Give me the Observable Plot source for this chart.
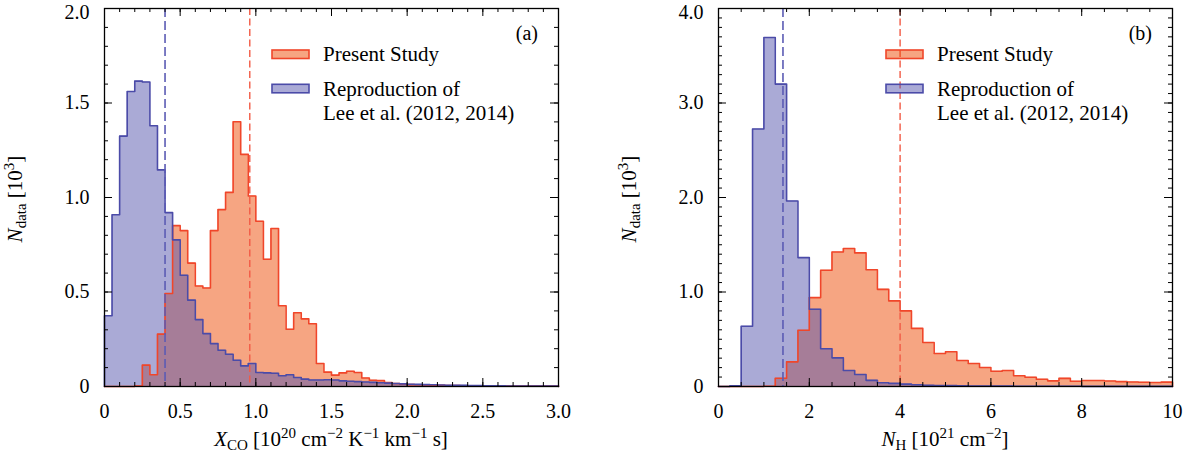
<!DOCTYPE html>
<html><head><meta charset="utf-8">
<script src="https://cdn.jsdelivr.net/npm/d3@7"></script>
<script src="https://cdn.jsdelivr.net/npm/@observablehq/plot@0.6"></script>
<style>
body{margin:0;background:#fff;}
#wrap{display:flex;width:1190px;height:466px;overflow:hidden;}
#wrap svg, #wrap svg text, #wrap svg tspan{font-family:"Liberation Serif","Times New Roman",Times,"DejaVu Serif",serif !important;}
</style></head><body><div id="wrap"></div>
<script>
// ---------- Panel (a): X_CO histogram (bin width 0.05, 0..3) ----------
const aBinWidth = 0.05;
const aPresent = [0,0,0,0,0.002,0.113,0.062,0.277,0.492,0.851,0.825,0.653,0.532,0.521,0.825,0.936,1.027,1.401,1.228,1.008,
  0.874,0.673,0.836,0.427,0.303,0.390,0.358,0.332,0.122,0.076,0.060,0.072,0.081,0.074,0.045,0.033,0.031,0.021,0.016,0.012,
  0.010,0.009,0.008,0.007,0.006,0.005,0.005,0.004,0.004,0.003,0.003,0.003,0.003,0.002,0.002,0.002,0.002,0.002,0.002,0.002];
const aLee = [0.374,0.909,1.325,1.561,1.616,1.611,1.380,1.146,0.920,0.776,0.589,0.457,0.354,0.280,0.227,0.192,0.171,0.139,0.109,0.122,
  0.074,0.072,0.070,0.057,0.062,0.048,0.039,0.034,0.034,0.036,0.034,0.030,0.028,0.026,0.024,0.022,0.020,0.018,0.016,0.014,
  0.012,0.011,0.010,0.009,0.008,0.007,0.006,0.006,0.005,0.005,0.004,0.004,0.004,0.003,0.003,0.003,0.003,0.002,0.002,0.002];
const aPresentMedian = 0.96;
const aLeeMedian = 0.40;
const aXTicks = [0, 0.5, 1.0, 1.5, 2.0, 2.5, 3.0];
const aXTickLabels = ["0", "0.5", "1.0", "1.5", "2.0", "2.5", "3.0"];
const aYTicks = [0, 0.5, 1.0, 1.5, 2.0];
const aYTickLabels = ["0", "0.5", "1.0", "1.5", "2.0"];

// ---------- Panel (b): N_H histogram (bin width 0.25, 0..10) ----------
const bBinWidth = 0.25;
const bPresent = [0,0,0,0,0.002,0.087,0.261,0.596,0.941,1.230,1.424,1.461,1.414,1.235,1.028,0.906,0.800,0.615,0.465,0.350,
  0.368,0.275,0.243,0.201,0.162,0.170,0.113,0.098,0.076,0.060,0.086,0.056,0.063,0.063,0.058,0.052,0.048,0.045,0.042,0.046];
const bLee = [0,0.008,0.638,2.725,3.693,3.200,1.963,1.364,0.818,0.400,0.303,0.170,0.127,0.065,0.040,0.033,0.025,0.018,0.014,0.011,
  0.009,0.007,0.006,0.005,0.004,0.004,0.003,0.003,0.002,0.002,0.002,0.002,0.001,0.001,0.001,0.001,0.001,0.001,0.001,0.001];
const bPresentMedian = 4.0;
const bLeeMedian = 1.42;
const bXTicks = [0, 2, 4, 6, 8, 10];
const bXTickLabels = ["0", "2", "4", "6", "8", "10"];
const bYTicks = [0, 1, 2, 3, 4];
const bYTickLabels = ["0", "1.0", "2.0", "3.0", "4.0"];

const seriesNames = ["Present Study", "Reproduction of", "Lee et al. (2012, 2014)"];

// ---------- styling ----------
const FONT = "Liberation Serif, Times New Roman, Times, DejaVu Serif, serif";
const ORANGE_FILL = "#ee4b05", BLUE_FILL = "#5555ad";
const ORANGE_LINE = "#f0462a", BLUE_LINE = "#4b4ba8";
const ORANGE_DASH = "#f25a45", BLUE_DASH = "#5c5cb4";
const H = 466, MT = 8, MB = 80;
const TITLE = 21, SUB = 15;

function stepPoints(vals, w) {
  const pts = [{x: 0, y: 0}];
  vals.forEach((v, i) => { pts.push({x: i * w, y: v}); pts.push({x: (i + 1) * w, y: v}); });
  pts.push({x: vals.length * w, y: 0});
  return pts;
}
const rng = (a, b, s) => d3.range(Math.round((b - a) / s) + 1).map(i => +(a + i * s).toFixed(6));

function panel(cfg) {
  const W = cfg.width, pw = W - cfg.ml - cfg.mr, ph = H - MT - MB;
  const pres = stepPoints(cfg.present, cfg.bw), lee = stepPoints(cfg.lee, cfg.bw);
  const majL = 8, minL = 4;
  const yFmt = d => cfg.yLabels[cfg.yTicks.indexOf(d)];
  const svg = Plot.plot({
    width: W, height: H, marginLeft: cfg.ml, marginRight: cfg.mr, marginTop: MT, marginBottom: MB,
    style: {fontFamily: FONT, fontSize: "20px", background: "white", color: "black", maxWidth: "none", overflow: "visible"},
    x: {domain: cfg.xDomain, axis: null},
    y: {domain: cfg.yDomain, axis: null},
    marks: [
      Plot.areaY(pres, {x: "x", y1: 0, y2: "y", fill: ORANGE_FILL, fillOpacity: 0.5}),
      Plot.areaY(lee, {x: "x", y1: 0, y2: "y", fill: BLUE_FILL, fillOpacity: 0.5}),
      Plot.line(pres, {x: "x", y: "y", stroke: ORANGE_LINE, strokeWidth: 1.6}),
      Plot.line(lee, {x: "x", y: "y", stroke: BLUE_LINE, strokeWidth: 1.6}),
      Plot.ruleX([cfg.leeMed], {stroke: BLUE_DASH, strokeWidth: 1.6, strokeDasharray: "9,4"}),
      Plot.ruleX([cfg.presMed], {stroke: ORANGE_DASH, strokeWidth: 1.4, strokeDasharray: "7,3.5"}),
      // inward ticks on all four sides
      Plot.tickX(cfg.xMinor, {x: d => d, insetTop: ph - minL, stroke: "black"}),
      Plot.tickX(cfg.xMinor, {x: d => d, insetBottom: ph - minL, stroke: "black"}),
      Plot.tickX(cfg.xTicks, {x: d => d, insetTop: ph - majL, stroke: "black"}),
      Plot.tickX(cfg.xTicks, {x: d => d, insetBottom: ph - majL, stroke: "black"}),
      Plot.tickY(cfg.yMinor, {y: d => d, insetRight: pw - minL, stroke: "black"}),
      Plot.tickY(cfg.yMinor, {y: d => d, insetLeft: pw - minL, stroke: "black"}),
      Plot.tickY(cfg.yTicks, {y: d => d, insetRight: pw - majL, stroke: "black"}),
      Plot.tickY(cfg.yTicks, {y: d => d, insetLeft: pw - majL, stroke: "black"}),
      Plot.frame({stroke: "black", strokeWidth: 1.3}),
      Plot.axisX({ticks: cfg.xTicks, tickFormat: d => cfg.xLabels[cfg.xTicks.indexOf(d)], tickSize: 0, tickPadding: 17, fontSize: 20, label: null}),
      Plot.axisY({ticks: cfg.yTicks.slice(0, -1), tickFormat: yFmt, tickSize: 0, tickPadding: 15, fontSize: 20, label: null}),
      // top label nudged down slightly so it stays inside the page
      Plot.axisY({ticks: cfg.yTicks.slice(-1), tickFormat: yFmt, tickSize: 0, tickPadding: 15, fontSize: 20, label: null, dy: 4})
    ]
  });
  const s = d3.select(svg);
  const L = cfg.ml, R = W - cfg.mr;
  // panel tag
  s.append("text").attr("x", R - 20).attr("y", 40).attr("text-anchor", "end")
    .attr("font-size", 20).attr("fill", "black").text(cfg.tag);
  // legend
  const lg = s.append("g").attr("font-size", 21).attr("fill", "black").attr("text-anchor", "start");
  lg.append("rect").attr("x", L + 168).attr("y", 50).attr("width", 37).attr("height", 8.5)
    .attr("fill", ORANGE_FILL).attr("fill-opacity", 0.5).attr("stroke", ORANGE_LINE).attr("stroke-width", 1.6);
  lg.append("rect").attr("x", L + 168).attr("y", 84.3).attr("width", 37).attr("height", 8.5)
    .attr("fill", BLUE_FILL).attr("fill-opacity", 0.5).attr("stroke", BLUE_LINE).attr("stroke-width", 1.6);
  lg.append("text").attr("x", L + 219).attr("y", 61).text(seriesNames[0]);
  lg.append("text").attr("x", L + 219).attr("y", 95.7).text(seriesNames[1]);
  lg.append("text").attr("x", L + 219).attr("y", 120).text(seriesNames[2]);
  // x-axis title
  const xt = s.append("text").attr("x", (L + R) / 2).attr("y", 446).attr("text-anchor", "middle")
    .attr("font-size", TITLE).attr("fill", "black");
  cfg.xTitle(xt);
  // y-axis title
  const yt = s.append("text").attr("transform", `translate(${L - 82},${(MT + H - MB) / 2 + 2}) rotate(-90)`)
    .attr("text-anchor", "middle").attr("font-size", TITLE).attr("fill", "black");
  yt.append("tspan").attr("font-style", "italic").text("N");
  yt.append("tspan").attr("font-size", SUB).attr("dy", 4).text("data");
  yt.append("tspan").attr("dy", -4).text(" [10");
  yt.append("tspan").attr("font-size", SUB).attr("dy", -8).text("3");
  yt.append("tspan").attr("dy", 8).text("]");
  return svg;
}

const wrap = document.getElementById("wrap");
wrap.appendChild(panel({
  width: 595, ml: 104, mr: 37, bw: aBinWidth, present: aPresent, lee: aLee,
  presMed: aPresentMedian, leeMed: aLeeMedian, xDomain: [0, 3], yDomain: [0, 2],
  xTicks: aXTicks, xLabels: aXTickLabels, xMinor: rng(0, 3, 0.1),
  yTicks: aYTicks, yLabels: aYTickLabels, yMinor: rng(0, 2, 0.1), tag: "(a)",
  xTitle: t => {
    t.append("tspan").attr("font-style", "italic").text("X");
    t.append("tspan").attr("font-size", SUB).attr("dy", 4).text("CO");
    t.append("tspan").attr("dy", -4).text(" [10");
    t.append("tspan").attr("font-size", SUB).attr("dy", -8).text("20");
    t.append("tspan").attr("dy", 8).text(" cm");
    t.append("tspan").attr("font-size", SUB).attr("dy", -8).text("\u22122");
    t.append("tspan").attr("dy", 8).text(" K");
    t.append("tspan").attr("font-size", SUB).attr("dy", -8).text("\u22121");
    t.append("tspan").attr("dy", 8).text(" km");
    t.append("tspan").attr("font-size", SUB).attr("dy", -8).text("\u22121");
    t.append("tspan").attr("dy", 8).text(" s]");
  }
}));
wrap.appendChild(panel({
  width: 595, ml: 123, mr: 18, bw: bBinWidth, present: bPresent, lee: bLee,
  presMed: bPresentMedian, leeMed: bLeeMedian, xDomain: [0, 10], yDomain: [0, 4],
  xTicks: bXTicks, xLabels: bXTickLabels, xMinor: rng(0, 10, 0.5),
  yTicks: bYTicks, yLabels: bYTickLabels, yMinor: rng(0, 4, 0.1), tag: "(b)",
  xTitle: t => {
    t.append("tspan").attr("font-style", "italic").text("N");
    t.append("tspan").attr("font-size", SUB).attr("dy", 4).text("H");
    t.append("tspan").attr("dy", -4).text(" [10");
    t.append("tspan").attr("font-size", SUB).attr("dy", -8).text("21");
    t.append("tspan").attr("dy", 8).text(" cm");
    t.append("tspan").attr("font-size", SUB).attr("dy", -8).text("\u22122");
    t.append("tspan").attr("dy", 8).text("]");
  }
}));
</script></body></html>
